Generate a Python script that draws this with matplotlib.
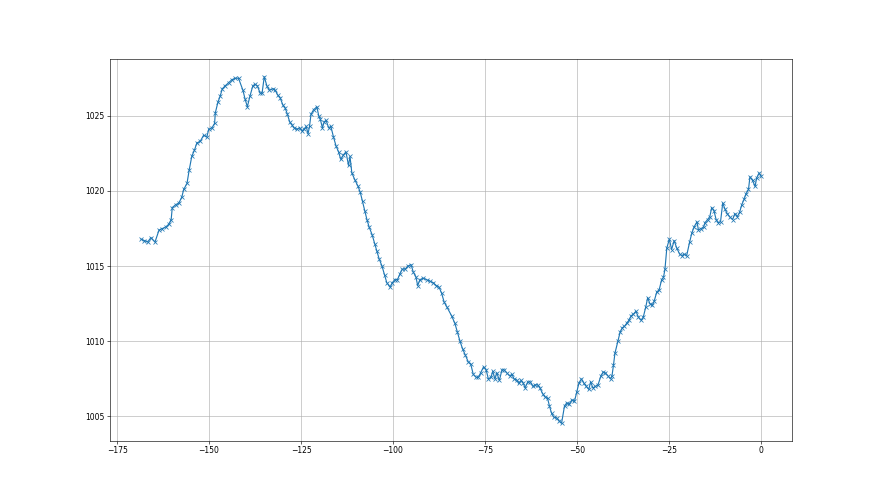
import numpy as np
import matplotlib
matplotlib.use("Agg")
import matplotlib.pyplot as plt

# hours relative to now
hours = [
    -168.5, -167.6, -166.7, -165.8, -164.7, -163.6, -162.7, -161.8, -160.9, -160.3,
    -160.0, -159.0, -158.2, -157.4, -156.9, -156.0, -155.4, -154.7, -154.0, -153.3,
    -152.4, -151.5, -150.6, -150.1, -149.2, -148.5, -148.3, -147.6, -147.0, -146.4,
    -145.6, -144.7, -143.8, -142.9, -142.0,
    -140.8, -140.2, -139.6, -138.9, -138.1, -137.5, -136.9, -136.1, -135.6, -135.0,
    -134.3, -133.6, -132.6, -132.0, -131.4, -130.7, -129.9, -129.3, -128.7, -128.1,
    -127.5, -126.9, -126.2, -125.4, -124.8, -124.2, -123.6, -123.1, -122.7, -122.3,
    -121.6, -120.7, -120.2, -119.8, -119.2, -118.7, -118.2, -117.5, -116.9, -116.2,
    -115.5, -114.8, -114.2, -113.5, -112.8,
    -112.1, -111.7, -111.2, -110.3, -109.5, -108.9, -108.3, -107.7, -107.1, -106.5,
    -105.7, -105.0, -104.4, -103.8, -103.0, -102.3, -101.7, -100.8, -100.2, -99.5,
    -98.8, -98.1, -97.5, -96.7, -96.0, -95.1, -94.5, -93.8, -93.3, -92.7,
    -91.8, -90.9, -90.0, -89.1, -88.2, -87.5, -86.8, -86.1, -85.4,
    -84.1, -83.2, -82.5, -81.8, -81.1, -80.4, -79.5, -78.9, -78.2, -77.4,
    -76.8, -76.2, -75.4, -74.7, -74.1, -73.4, -72.9, -72.3, -71.8, -71.1,
    -70.4, -69.8, -69.1, -68.3, -67.7, -67.1, -66.3, -65.9, -65.2, -64.6,
    -64.1, -63.4, -62.7, -62.0, -61.4, -60.7, -60.1, -59.3, -58.7, -58.0,
    -57.5, -56.9, -56.3, -55.5,
    -54.9, -54.2, -53.4, -52.8, -52.2, -51.4, -50.7, -50.1, -49.5, -48.8,
    -48.1, -47.5, -46.8, -46.3, -45.7, -45.0, -44.3, -43.5, -42.9, -42.3,
    -41.6, -40.9, -40.5, -40.1, -39.7, -38.9, -38.3, -37.7, -37.1, -36.5,
    -35.9, -35.3, -34.7, -34.0, -33.3, -32.6, -32.0, -31.3, -30.8, -30.2,
    -29.5, -29.0, -28.3, -27.7, -27.0, -26.5, -26.1,
    -25.6, -24.9, -24.3, -23.6, -22.9, -22.1, -21.5, -20.9, -20.2, -19.4,
    -18.8, -18.2, -17.4, -17.0, -16.3, -15.6, -15.2, -14.5, -13.9, -13.4,
    -12.8, -12.2, -11.6, -11.0, -10.4, -9.8, -9.2, -8.4, -7.7, -7.1,
    -6.4, -5.8, -5.2, -4.6, -4.1, -3.4, -3.0, -2.3, -1.6, -1.2,
    -0.5, 0.0,
]

# pressure (hPa)
pressure = [
    1016.8, 1016.7, 1016.6, 1016.9, 1016.6, 1017.4, 1017.5, 1017.6, 1017.8, 1018.1,
    1018.9, 1019.1, 1019.2, 1019.6, 1020.1, 1020.5, 1021.4, 1022.3, 1022.7, 1023.2,
    1023.3, 1023.7, 1023.6, 1024.1, 1024.2, 1024.5, 1025.2, 1025.9, 1026.3, 1026.8,
    1027.0, 1027.2, 1027.4, 1027.5, 1027.5,
    1026.7, 1026.1, 1025.6, 1026.3, 1027.0, 1027.1, 1027.0, 1026.5, 1026.5, 1027.6,
    1027.0, 1026.7, 1026.8, 1026.7, 1026.4, 1026.2, 1025.7, 1025.5, 1025.1, 1024.6,
    1024.4, 1024.2, 1024.1, 1024.2, 1024.0, 1024.1, 1024.3, 1023.8, 1024.3, 1025.1,
    1025.4, 1025.6, 1025.0, 1024.8, 1024.2, 1024.6, 1024.7, 1024.2, 1024.3, 1023.6,
    1023.0, 1022.6, 1022.1, 1022.4, 1022.6,
    1021.7, 1022.3, 1021.2, 1020.7, 1020.3, 1019.9, 1019.3, 1018.7, 1018.1, 1017.6,
    1017.1, 1016.5, 1016.0, 1015.5, 1015.0, 1014.4, 1013.9, 1013.6, 1013.9, 1014.1,
    1014.1, 1014.5, 1014.8, 1014.8, 1015.0, 1015.1, 1014.6, 1014.3, 1013.7, 1014.1,
    1014.2, 1014.1, 1014.0, 1013.9, 1013.7, 1013.6, 1013.2, 1012.6, 1012.3,
    1011.7, 1011.2, 1010.6, 1010.0, 1009.5, 1009.1, 1008.6, 1008.5, 1007.8, 1007.6,
    1007.6, 1007.9, 1008.3, 1008.1, 1007.5, 1007.6, 1008.0, 1007.5, 1007.9, 1007.4,
    1008.1, 1008.1, 1007.9, 1007.7, 1007.8, 1007.5, 1007.4, 1007.2, 1007.4, 1007.2,
    1006.9, 1007.3, 1007.3, 1007.0, 1007.1, 1007.1, 1006.9, 1006.5, 1006.3, 1006.2,
    1005.7, 1005.2, 1004.95, 1004.9,
    1004.7, 1004.55, 1005.7, 1005.9, 1005.8, 1006.1, 1006.0, 1006.6, 1007.2, 1007.5,
    1007.2, 1007.0, 1006.8, 1007.3, 1006.9, 1007.0, 1007.1, 1007.7, 1007.95, 1007.9,
    1007.7, 1007.5, 1007.7, 1008.4, 1009.2, 1010.0, 1010.6, 1010.9, 1011.0, 1011.2,
    1011.4, 1011.7, 1011.8, 1012.0, 1011.6, 1011.4, 1011.6, 1012.3, 1012.9, 1012.5,
    1012.4, 1012.7, 1013.3, 1013.4, 1014.1, 1014.25, 1014.8,
    1016.2, 1016.8, 1016.1, 1016.7, 1016.2, 1015.8, 1015.7, 1015.8, 1015.7, 1016.6,
    1017.2, 1017.6, 1017.95, 1017.4, 1017.5, 1017.6, 1017.9, 1018.1, 1018.3, 1018.9,
    1018.7, 1018.1, 1017.9, 1017.95, 1019.2, 1018.8, 1018.5, 1018.25, 1018.1, 1018.5,
    1018.3, 1018.6, 1019.1, 1019.45, 1019.8, 1020.1, 1020.95, 1020.7, 1020.3, 1020.85,
    1021.2, 1020.97,
]

fig = plt.figure(figsize=(16, 9), dpi=55)
plt.plot(hours, pressure, marker="x", color="tab:blue")
plt.grid(True)
plt.savefig("out.png", dpi=55)
